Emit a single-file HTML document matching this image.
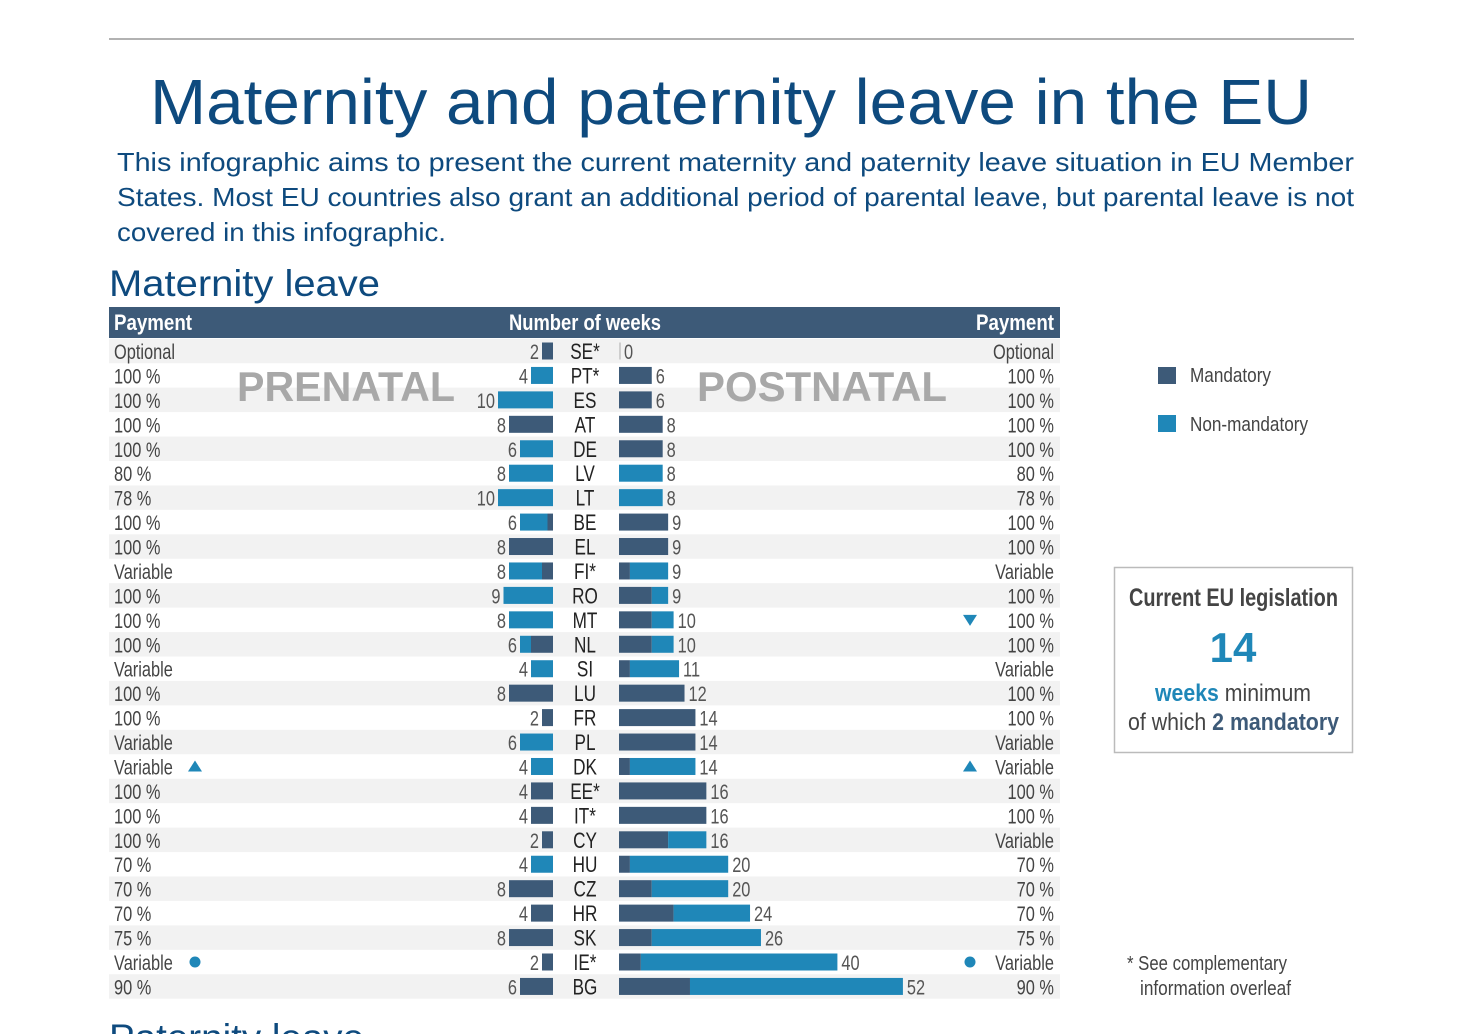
<!DOCTYPE html>
<html><head><meta charset="utf-8"><style>
body{margin:0;background:#fff;}
svg{display:block;font-family:"Liberation Sans",sans-serif;}
</style></head><body>
<svg id="c" width="1460" height="1034" viewBox="0 0 1460 1034" xmlns="http://www.w3.org/2000/svg">
<line x1="109" y1="39" x2="1354" y2="39" stroke="#999" stroke-width="1.5"/>
<text x="150" y="124" font-size="64" fill="#0e4a7e" textLength="1162" lengthAdjust="spacingAndGlyphs">Maternity and paternity leave in the EU</text>
<g fill="#0e4a7e" font-size="26">
<text x="117" y="171" textLength="1237" lengthAdjust="spacingAndGlyphs">This infographic aims to present the current maternity and paternity leave situation in EU Member</text>
<text x="117" y="206" textLength="1237" lengthAdjust="spacingAndGlyphs">States. Most EU countries also grant an additional period of parental leave, but parental leave is not</text>
<text x="117" y="241" textLength="329" lengthAdjust="spacingAndGlyphs">covered in this infographic.</text>
</g>
<text x="109" y="296" font-size="37" fill="#0e4a7e" textLength="271" lengthAdjust="spacingAndGlyphs">Maternity leave</text>
<rect x="109" y="307" width="951" height="31" fill="#3d5a78"/>
<g fill="#fff" font-size="22" font-weight="bold">
<text x="114" y="330" textLength="78" lengthAdjust="spacingAndGlyphs">Payment</text>
<text x="509" y="330" textLength="152" lengthAdjust="spacingAndGlyphs">Number of weeks</text>
<text x="976" y="330" textLength="78" lengthAdjust="spacingAndGlyphs">Payment</text>
</g>
<g id="rows"></g>
<text x="237" y="401" font-size="42" font-weight="bold" fill="#a8a8a8" textLength="218" lengthAdjust="spacingAndGlyphs">PRENATAL</text>
<text x="697" y="401" font-size="42" font-weight="bold" fill="#a8a8a8" textLength="250" lengthAdjust="spacingAndGlyphs">POSTNATAL</text>
<g>
<rect x="1158" y="367" width="18" height="17" fill="#3d5a78"/>
<text x="1190" y="382" font-size="20" fill="#444" textLength="81" lengthAdjust="spacingAndGlyphs">Mandatory</text>
<rect x="1158" y="415" width="18" height="17" fill="#1f87b8"/>
<text x="1190" y="431" font-size="20" fill="#444" textLength="118" lengthAdjust="spacingAndGlyphs">Non-mandatory</text>
</g>
<g>
<rect x="1114.5" y="567.5" width="238" height="185" fill="#fff" stroke="#bbb" stroke-width="1.5"/>
<text x="1129" y="606" font-size="25" font-weight="bold" fill="#444" textLength="209" lengthAdjust="spacingAndGlyphs">Current EU legislation</text>
<text x="1233" y="662" font-size="42" font-weight="bold" fill="#1f87b8" text-anchor="middle">14</text>
<text x="1155" y="701" font-size="24" fill="#444" textLength="156" lengthAdjust="spacingAndGlyphs"><tspan font-weight="bold" fill="#1f87b8">weeks</tspan> minimum</text>
<text x="1128" y="730" font-size="24" fill="#444" textLength="211" lengthAdjust="spacingAndGlyphs">of which <tspan font-weight="bold" fill="#3d5a78">2 mandatory</tspan></text>
</g>
<g fill="#444" font-size="20">
<text x="1127" y="970" textLength="160" lengthAdjust="spacingAndGlyphs">* See complementary</text>
<text x="1140" y="995" textLength="151" lengthAdjust="spacingAndGlyphs">information overleaf</text>
</g>
<text x="109" y="1050" font-size="37" fill="#0e4a7e" textLength="255" lengthAdjust="spacingAndGlyphs">Paternity leave</text>
</svg>
<script>
const countries=["SE*","PT*","ES","AT","DE","LV","LT","BE","EL","FI*","RO","MT","NL","SI","LU","FR","PL","DK","EE*","IT*","CY","HU","CZ","HR","SK","IE*","BG"];
const payLeft=["Optional","100 %","100 %","100 %","100 %","80 %","78 %","100 %","100 %","Variable","100 %","100 %","100 %","Variable","100 %","100 %","Variable","Variable","100 %","100 %","100 %","70 %","70 %","70 %","75 %","Variable","90 %"];
const payRight=["Optional","100 %","100 %","100 %","100 %","80 %","78 %","100 %","100 %","Variable","100 %","100 %","100 %","Variable","100 %","100 %","Variable","Variable","100 %","100 %","Variable","70 %","70 %","70 %","75 %","Variable","90 %"];
const preTotal=[2,4,10,8,6,8,10,6,8,8,9,8,6,4,8,2,6,4,4,4,2,4,8,4,8,2,6];
const preMand=[2,0,0,8,0,0,0,1,8,2,0,0,4,0,8,2,0,0,4,4,2,0,8,4,8,2,6];
const postTotal=[0,6,6,8,8,8,8,9,9,9,9,10,10,11,12,14,14,14,16,16,16,20,20,24,26,40,52];
const postMand=[0,6,6,8,8,0,0,9,9,2,6,6,6,2,12,14,14,2,16,16,9,2,6,10,6,4,13];
const markers={"MT":"down","DK":"up","IE*":"dot"};
const NS="http://www.w3.org/2000/svg";
const g=document.getElementById('rows');
const rowY=i=>351+i*24.44;
const preX=w=>553-w*5.5;
const postX=w=>619+w*5.46;
const DARK="#3d5a78",LIGHT="#1f87b8";
function mk(tag,attrs,parent){const e=document.createElementNS(NS,tag);for(const k in attrs)e.setAttribute(k,attrs[k]);(parent||g).appendChild(e);return e;}
function txt(x,y,s,anchor,fill,size,parent){const t=mk('text',{x:x,y:y,'text-anchor':anchor,fill:fill,'font-size':size,transform:`translate(${x},0) scale(0.78,1) translate(${-x},0)`},parent);t.textContent=s;return t;}
countries.forEach((c,i)=>{
  const cy=rowY(i);
  const row=mk('g',{});
  
  
  if(i%2===0){const bg=mk('rect',{x:109,y:cy-12.2,width:951,height:24.44,fill:'#f2f2f2'},row);
    
    }
  const by=cy-8.5,bh=17;
  // prenatal
  const pm=preMand[i],pt=preTotal[i];
  if(pt-pm>0){const r=mk('rect',{x:preX(pt),y:by,width:(pt-pm)*5.5,height:bh,fill:LIGHT},row);
    
    }
  if(pm>0){const r=mk('rect',{x:preX(pm),y:by,width:pm*5.5,height:bh,fill:DARK},row);
    
    }
  txt(preX(pt)-3,cy+8,String(pt),'end','#555',21,row);
  // postnatal
  const qm=postMand[i],qt=postTotal[i];
  if(qm>0){const r=mk('rect',{x:postX(0),y:by,width:qm*5.46,height:bh,fill:DARK},row);
    
    }
  if(qt-qm>0){const r=mk('rect',{x:postX(qm),y:by,width:(qt-qm)*5.46,height:bh,fill:LIGHT},row);
    
    }
  if(qt===0){mk('line',{x1:620,y1:by,x2:620,y2:by+bh,stroke:'#aaa','stroke-width':1},row);}
  txt(postX(qt)+(qt===0?5:4),cy+8,String(qt),'start','#555',21,row);
  const ct=txt(585,cy+8,c,'middle','#222',22,row);
  
  
  txt(114,cy+8,payLeft[i],'start','#444',21,row);
  txt(1054,cy+8,payRight[i],'end','#444',21,row);
  const m=markers[c];
  if(m){
    [[195,m!=='down'],[970,true]].forEach(([mx,show])=>{
      if(!show)return;
      let s;
      if(m==='dot')s=mk('circle',{cx:mx,cy:cy,r:5.5,fill:LIGHT},row);
      else if(m==='up')s=mk('polygon',{points:`${mx-7},${cy+5} ${mx+7},${cy+5} ${mx},${cy-6}`,fill:LIGHT},row);
      else s=mk('polygon',{points:`${mx-7},${cy-5} ${mx+7},${cy-5} ${mx},${cy+6}`,fill:LIGHT},row);
      
      
    });
  }
});
</script>
</body></html>
